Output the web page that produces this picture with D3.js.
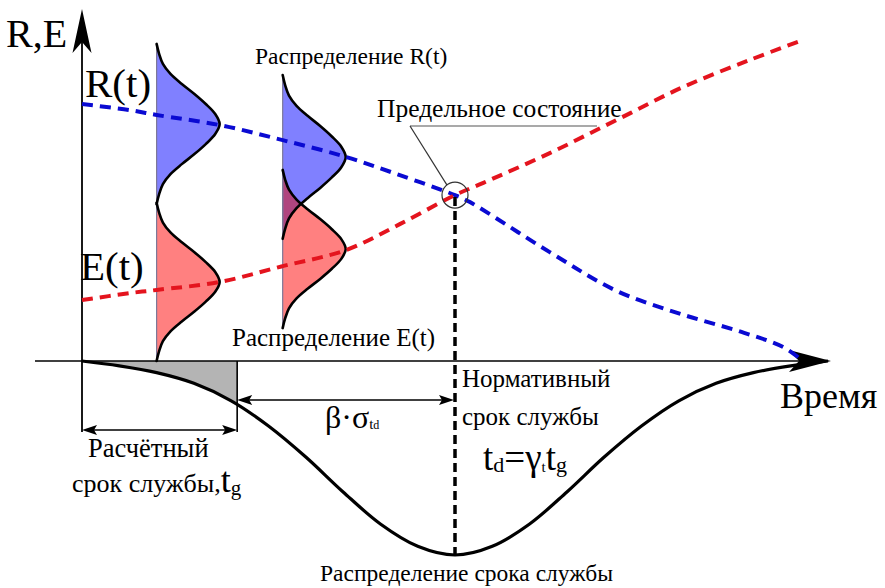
<!DOCTYPE html>
<html>
<head>
<meta charset="utf-8">
<script src="https://cdn.jsdelivr.net/npm/d3@7"></script>
</head>
<body style="margin:0">
<svg id="s" width="885" height="588"></svg>
<script>
// Resistance R(t): time (0..100) and level (0..100)
const resistanceTimes = [0, 6.4, 10, 18.5, 26.9, 35.4, 42.6, 50, 52, 62.7, 71.7, 80.3, 88.4, 94, 96.4];
const resistanceLevels = [73.4, 71.7, 70.3, 67.4, 63.1, 58.3, 53.1, 47.4, 45.4, 31.1, 20.0, 13.4, 8.3, 4.0, 0.4];

// Load effect E(t)
const effectTimes = [0, 6.4, 10, 18.5, 26.9, 35.4, 42.6, 50, 53.8, 62.7, 71.7, 80.6, 89.5, 96.6];
const effectLevels = [17.4, 19.4, 20.3, 22.6, 27.1, 31.7, 39.1, 47.4, 50.9, 59.4, 68.9, 78.3, 86.0, 91.7];

// Distribution snapshots: moment, kind, centre level, half-span of level
const bellTimes = [10, 10, 26.9, 26.9];
const bellKinds = ["R", "E", "R", "E"];
const bellCentres = [67.7, 22.6, 58.3, 32.0];
const bellHalfSpans = [22.9, 22.6, 23.4, 22.6];
const bellPeak = 8.45; // peak density, in time units
// density profile across the span (-1..1), relative to the peak
const bellSteps = [-1, -0.875, -0.75, -0.625, -0.5, -0.375, -0.25, -0.125, 0, 0.125, 0.25, 0.375, 0.5, 0.625, 0.75, 0.875, 1];
const bellProfile = [0, 0.04, 0.10, 0.22, 0.40, 0.60, 0.78, 0.93, 1, 0.93, 0.78, 0.60, 0.40, 0.22, 0.10, 0.04, 0];

// Service life distribution (relative density)
const lifeTimes = [0, 5, 10, 15, 20, 25, 30, 35, 40, 45, 50, 55, 60, 65, 70, 75, 80, 85, 90, 95, 100];
const lifeDensity = [0, 0.025, 0.06, 0.115, 0.205, 0.335, 0.495, 0.675, 0.84, 0.955, 1, 0.955, 0.84, 0.675, 0.495, 0.335, 0.205, 0.115, 0.06, 0.025, 0];

// Key moments
const designLife = 20.8;   // t_g
const normLife = 50;       // t_d
const limitLevel = 47.4;   // R = E

const svg = d3.select("#s");

const x = d3.scaleLinear().domain([0, 100]).range([82, 828]);
const y = d3.scaleLinear().domain([0, 100]).range([361, 11]);
const yLife = d3.scaleLinear().domain([0, 1]).range([361, 555]);

const colors = { R: "#8080ff", E: "#ff8080", overlap: "#b0457f", Rline: "#0a0ad2", Eline: "#e4141e" };

function arrowHead(tx, ty, angle, len, half, notch) {
  svg.append("path")
    .attr("d", `M0,0 L${-len},${-half} L${-(len - notch)},0 L${-len},${half} Z`)
    .attr("transform", `translate(${tx},${ty}) rotate(${angle})`)
    .attr("fill", "#000");
}

// ---- service life distribution below the time axis ----
const lifeArea = d3.area()
  .x((d, i) => x(lifeTimes[i]))
  .y0(yLife(0))
  .y1(d => yLife(d))
  .curve(d3.curveCatmullRom);

svg.append("clipPath").attr("id", "designClip")
  .append("rect")
  .attr("x", x(0)).attr("y", yLife(0))
  .attr("width", x(designLife) - x(0)).attr("height", 200);

svg.append("path")
  .datum(lifeDensity)
  .attr("d", lifeArea)
  .attr("fill", "#b4b4b4")
  .attr("clip-path", "url(#designClip)");

// ---- distribution snapshots ----
const bellData = bellTimes.map((t, k) => ({
  t, kind: bellKinds[k],
  pts: bellSteps.map((u, i) => ({ lv: bellCentres[k] + u * bellHalfSpans[k], w: bellProfile[i] }))
}));

const bellArea = b => d3.area()
  .y(d => y(d.lv))
  .x0(x(b.t))
  .x1(d => x(b.t + d.w * bellPeak))
  .curve(d3.curveCatmullRom)(b.pts);

const bellLine = b => d3.line()
  .y(d => y(d.lv))
  .x(d => x(b.t + d.w * bellPeak))
  .curve(d3.curveCatmullRom)(b.pts);

bellData.forEach(b => {
  svg.append("path").attr("d", bellArea(b)).attr("fill", colors[b.kind]);
});

// overlap of the second pair: E area clipped to the R area
svg.append("clipPath").attr("id", "rClip")
  .append("path").attr("d", bellArea(bellData[2]));
svg.append("path")
  .attr("d", bellArea(bellData[3]))
  .attr("fill", colors.overlap)
  .attr("clip-path", "url(#rClip)");

// bell baselines
bellData.forEach(b => {
  svg.append("line")
    .attr("x1", x(b.t)).attr("x2", x(b.t))
    .attr("y1", y(b.pts[0].lv)).attr("y2", y(b.pts[b.pts.length - 1].lv))
    .attr("stroke", "#7d7898").attr("stroke-width", 1.2);
});

// bell outlines
bellData.forEach(b => {
  svg.append("path").attr("d", bellLine(b))
    .attr("fill", "none").attr("stroke", "#000").attr("stroke-width", 2.6)
    .attr("stroke-linecap", "round");
});

// ---- axes ----
svg.append("line").attr("x1", 35).attr("x2", 800).attr("y1", y(0)).attr("y2", y(0))
  .attr("stroke", "#000").attr("stroke-width", 1.6);
arrowHead(831, y(0), 0, 42, 11, 10);

svg.append("line").attr("x1", x(0)).attr("x2", x(0)).attr("y1", 432).attr("y2", 40)
  .attr("stroke", "#000").attr("stroke-width", 1.8);
arrowHead(x(0), 9, -90, 44, 9.5, 11);

// ---- life distribution outline ----
svg.append("path")
  .datum(lifeDensity)
  .attr("d", d3.line().x((d, i) => x(lifeTimes[i])).y(d => yLife(d)).curve(d3.curveCatmullRom))
  .attr("fill", "none").attr("stroke", "#000").attr("stroke-width", 3.2);

// ---- R(t) and E(t) dashed curves ----
svg.append("path")
  .datum(resistanceLevels)
  .attr("d", d3.line().x((d, i) => x(resistanceTimes[i])).y(d => y(d)).curve(d3.curveCatmullRom))
  .attr("fill", "none").attr("stroke", colors.Rline).attr("stroke-width", 4)
  .attr("stroke-dasharray", "11,7");

svg.append("path")
  .datum(effectLevels)
  .attr("d", d3.line().x((d, i) => x(effectTimes[i])).y(d => y(d)).curve(d3.curveCatmullRom))
  .attr("fill", "none").attr("stroke", colors.Eline).attr("stroke-width", 4)
  .attr("stroke-dasharray", "11,7");

// ---- limit state ----
svg.append("line")
  .attr("x1", x(normLife)).attr("x2", x(normLife))
  .attr("y1", y(limitLevel) + 2).attr("y2", yLife(1))
  .attr("stroke", "#000").attr("stroke-width", 3.5).attr("stroke-dasharray", "9,5");

svg.append("circle")
  .attr("cx", x(normLife)).attr("cy", y(limitLevel)).attr("r", 13)
  .attr("fill", "none").attr("stroke", "#333").attr("stroke-width", 1.2);

svg.append("line").attr("x1", 410).attr("y1", 126).attr("x2", 597).attr("y2", 126)
  .attr("stroke", "#555").attr("stroke-width", 1.2);
svg.append("line").attr("x1", 410).attr("y1", 126)
  .attr("x2", x(normLife) - 8).attr("y2", y(limitLevel) - 10)
  .attr("stroke", "#333").attr("stroke-width", 1.2);

// ---- dimension lines ----
svg.append("line").attr("x1", x(designLife)).attr("x2", x(designLife))
  .attr("y1", y(0)).attr("y2", 432).attr("stroke", "#000").attr("stroke-width", 1.6);

svg.append("line").attr("x1", x(0) + 6).attr("x2", x(designLife) - 6).attr("y1", 430).attr("y2", 430)
  .attr("stroke", "#000").attr("stroke-width", 1.4);
arrowHead(x(0), 430, 180, 15, 5, 3);
arrowHead(x(designLife), 430, 0, 15, 5, 3);

svg.append("line").attr("x1", x(designLife) + 6).attr("x2", x(normLife) - 6).attr("y1", 400).attr("y2", 400)
  .attr("stroke", "#000").attr("stroke-width", 1.4);
arrowHead(x(designLife), 400, 180, 15, 5, 3);
arrowHead(x(normLife) - 1, 400, 0, 15, 5, 3);

// ---- labels ----
function label(txt, tx, ty, size) {
  return svg.append("text").attr("x", tx).attr("y", ty).attr("font-size", size)
    .style("font-family", '"Liberation Serif"').text(txt);
}

label("R,E", 6, 47, 40);
label("R(t)", 85, 97, 41);
label("E(t)", 80, 280, 41);
label("Распределение R(t)", 255, 64, 23.5);
label("Предельное состояние", 377, 117, 25.5);
label("Распределение E(t)", 232, 346, 25);
label("Нормативный", 462, 387, 25);
label("срок службы", 462, 425, 25);
label("Время", 780, 408, 36);
label("Расчётный", 88, 457, 26.5);
label("Распределение срока службы", 320, 581, 23.5);

// срок службы, t_g
const tg = label("", 72, 492, 26);
tg.append("tspan").text("срок службы,");
tg.append("tspan").attr("font-size", 36).text("t");
tg.append("tspan").attr("font-size", 21).attr("dy", 3).text("g");

// β·σ_td
const bs = label("", 325, 428, 32);
bs.append("tspan").text("β·σ");
bs.append("tspan").attr("font-size", 15).attr("dy", 1).text("t");
bs.append("tspan").attr("font-size", 12).text("d");

// t_d = γ_t t_g
const td = label("", 483, 470, 37);
td.append("tspan").text("t");
td.append("tspan").attr("font-size", 22).attr("dy", 2).text("d");
td.append("tspan").attr("dy", -2).text("=γ");
td.append("tspan").attr("font-size", 15).attr("dy", 2).text("t");
td.append("tspan").attr("dy", -2).text("t");
td.append("tspan").attr("font-size", 22).attr("dy", 2).text("g");
</script>
</body>
</html>
